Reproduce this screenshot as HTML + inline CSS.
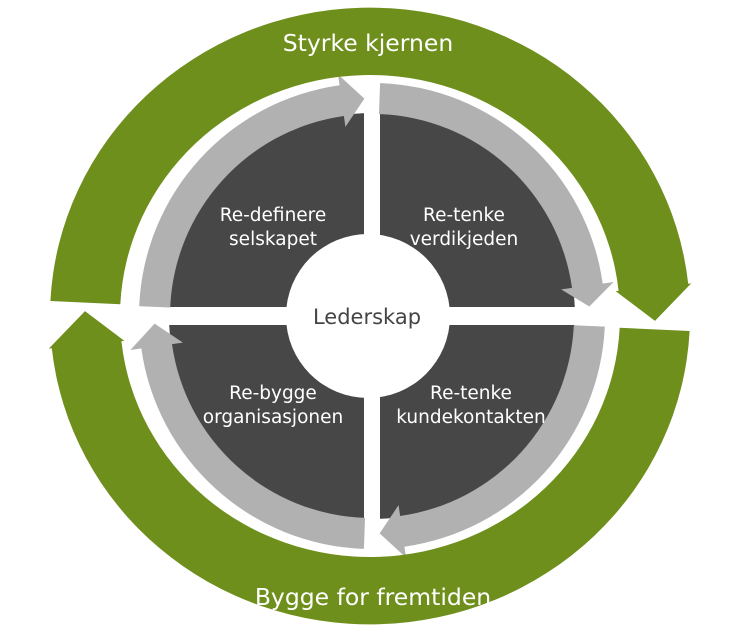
<!DOCTYPE html>
<html><head><meta charset="utf-8"><style>
html,body{margin:0;padding:0;background:#fff;}
svg{display:block;}
text{font-family:"DejaVu Sans","Liberation Sans",sans-serif;}
</style></head><body>
<svg id="s" width="749" height="633" viewBox="0 0 749 633" xmlns="http://www.w3.org/2000/svg">
<circle cx="372" cy="316" r="203" fill="#474747"/>
<rect x="364" y="60" width="16" height="515" fill="#fff"/>
<rect x="110" y="307" width="520" height="18" fill="#fff"/>
<circle cx="368" cy="316" r="82" fill="#fff"/>
<g id="grey" fill="#b1b1b1"></g>
<g id="green" fill="#6e8f1b" transform="translate(370,316) scale(1,0.965)"></g>
<text x="368" y="51" font-size="23.5" fill="#fff" text-anchor="middle">Styrke kjernen</text>
<text x="373" y="605" font-size="23.5" fill="#fff" text-anchor="middle">Bygge for fremtiden</text>
<g font-size="18.5" fill="#fff" text-anchor="middle">
<text x="273" y="221">Re-definere</text><text x="273" y="245">selskapet</text>
<text x="464" y="221">Re-tenke</text><text x="464" y="245">verdikjeden</text>
<text x="273" y="399">Re-bygge</text><text x="273" y="423">organisasjonen</text>
<text x="471" y="399">Re-tenke</text><text x="471" y="423">kundekontakten</text>
</g>
<text x="367" y="324" font-size="21" fill="#444" text-anchor="middle">Lederskap</text>
<script>
function P(cx,cy,r,a){a=a*Math.PI/180;return (cx+r*Math.cos(a)).toFixed(1)+" "+(cy+r*Math.sin(a)).toFixed(1);}
function band(cx,cy,ri,ro,a0,a1,h,ov){
 var lg=(a1-a0)>180?1:0, rm=(ri+ro)/2;
 return "M"+P(cx,cy,ro,a0)+" A"+ro+" "+ro+" 0 "+lg+" 1 "+P(cx,cy,ro,a1)+
 " L"+P(cx,cy,ro+ov,a1)+" L"+P(cx,cy,rm,a1+h)+" L"+P(cx,cy,ri-ov,a1)+
 " L"+P(cx,cy,ri,a1)+" A"+ri+" "+ri+" 0 "+lg+" 0 "+P(cx,cy,ri,a0)+" Z";
}
var NS="http://www.w3.org/2000/svg";
function add(g,d){var p=document.createElementNS(NS,"path");p.setAttribute("d",d);document.getElementById(g).appendChild(p);}
add("grey",band(372,316,202,233,182.4,262,6,11));
add("grey",band(372,316,202,233,272,352,5.5,11));
add("grey",band(372,316,202,233,2.6,82,6,11));
add("grey",band(372,316,202,233,92,172,6,11));
add("green",band(0,0,250,320,182.8,354,7,3));
add("green",band(0,0,250,320,2.8,174,7,3));
</script>
</svg>
</body></html>
